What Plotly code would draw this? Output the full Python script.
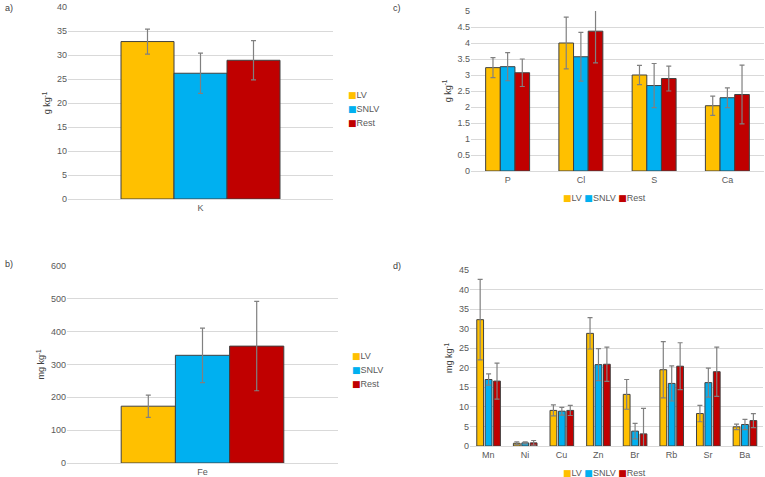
import plotly.graph_objects as go

# ---------------- data ----------------
series = ["LV", "SNLV", "Rest"]
colors = {"LV": "#FFC000", "SNLV": "#00B0F0", "Rest": "#C00000"}

cat_a = ["K"]
a_mean = {"LV": [32.8], "SNLV": [26.2], "Rest": [28.9]}
a_err = {"LV": [2.6], "SNLV": [4.2], "Rest": [4.1]}

cat_b = ["Fe"]
b_mean = {"LV": [173], "SNLV": [328], "Rest": [356]}
b_err = {"LV": [34], "SNLV": [83], "Rest": [136]}

cat_c = ["P", "Cl", "S", "Ca"]
c_mean = {"LV": [3.23, 4.00, 3.00, 2.04],
          "SNLV": [3.26, 3.57, 2.67, 2.29],
          "Rest": [3.07, 4.37, 2.89, 2.39]}
c_err = {"LV": [0.31, 0.81, 0.30, 0.30],
         "SNLV": [0.44, 0.76, 0.69, 0.31],
         "Rest": [0.43, 0.99, 0.39, 0.92]}

cat_d = ["Mn", "Ni", "Cu", "Zn", "Br", "Rb", "Sr", "Ba"]
d_mean = {"LV": [32.3, 0.7, 9.1, 28.8, 13.2, 19.5, 8.3, 4.9],
          "SNLV": [17.0, 0.8, 8.9, 20.8, 3.8, 16.0, 16.2, 5.5],
          "Rest": [16.6, 0.8, 9.1, 20.9, 3.1, 20.4, 19.0, 6.5]}
d_err = {"LV": [10.3, 0.35, 1.4, 4.0, 3.8, 7.2, 2.1, 0.7],
         "SNLV": [1.45, 0.25, 1.0, 4.1, 2.0, 4.5, 3.7, 1.3],
         "Rest": [4.6, 0.6, 1.3, 4.4, 6.5, 6.0, 6.3, 1.8]}

W, H = 765, 477
FONT = "Liberation Sans, Arial, sans-serif"
TXT = "#595959"
GRID = "#d9d9d9"
OUTLINE = "#404040"
ERRC = "#808080"


def px(x):
    return x / W


def py(y):
    return 1 - y / H


fig = go.Figure()

panels = [
    ("x", "y", cat_a, a_mean, a_err, None),
    ("x2", "y2", cat_b, b_mean, b_err, None),
    ("x3", "y3", cat_c, c_mean, c_err, None),
    ("x4", "y4", cat_d, d_mean, d_err, "gapped"),
]

for xa, ya, cats, means, errs, mode in panels:
    for i, s in enumerate(series):
        kw = {}
        if mode == "gapped":
            kw = dict(width=0.185, offset=-0.315 + i * 0.23)
        fig.add_trace(go.Bar(
            x=cats, y=means[s], name=s, xaxis=xa, yaxis=ya, showlegend=False,
            marker=dict(color=colors[s], line=dict(color=OUTLINE, width=1)),
            error_y=dict(type="data", array=errs[s], color=ERRC,
                         thickness=1.2, width=2.5),
            **kw))

axfont = dict(family=FONT, size=9, color=TXT)


def xax(domain):
    return dict(domain=domain, showgrid=False, showline=True, linecolor=GRID,
                linewidth=1, tickfont=axfont, ticks="", fixedrange=True)


def yax(domain, rng, dtick, title, anchor):
    return dict(domain=domain, range=rng, dtick=dtick, showgrid=True,
                gridcolor=GRID, gridwidth=1, zeroline=False, showline=False,
                tickfont=axfont, ticks="", anchor=anchor,
                title=dict(text=title, font=dict(family=FONT, size=9, color="#404040"),
                           standoff=4))


fig.update_layout(
    width=W, height=H, autosize=False,
    margin=dict(l=0, r=0, t=0, b=0, autoexpand=False),
    paper_bgcolor="white", plot_bgcolor="white",
    barmode="group", bargap=0.4, bargroupgap=0,
    font=dict(family=FONT, size=9, color=TXT),
    showlegend=False,
    xaxis=dict(**xax([px(68), px(333)]), anchor="y"),
    yaxis=yax([py(199), py(7)], [0, 40], 5, "g kg<sup>-1</sup>", "x"),
    xaxis2=dict(**xax([px(67), px(338)]), anchor="y2"),
    yaxis2=yax([py(463), py(266)], [0, 600], 100, "mg kg<sup>-1</sup>", "x2"),
    xaxis3=dict(**xax([px(471), px(764)]), anchor="y3"),
    yaxis3=yax([py(171), py(11)], [0, 5], 0.5, "g kg<sup>-1</sup>", "x3"),
    xaxis4=dict(**xax([px(470), px(763)]), anchor="y4"),
    yaxis4=yax([py(446), py(270)], [0, 45], 5, "mg kg<sup>-1</sup>", "x4"),
)


def ann(text, x, y, xanchor="left"):
    fig.add_annotation(text=text, x=px(x), y=py(y), xref="paper", yref="paper",
                       xanchor=xanchor, yanchor="middle", showarrow=False,
                       font=dict(family=FONT, size=9, color=TXT))


def swatch(s):
    return ('<span style="color:%s;font-family:DejaVu Sans">\u25A0</span>' % colors[s])


# vertical legends (panels a and b)
for lx, ly0 in [(346, 95), (350, 356)]:
    for i, s in enumerate(series):
        ann(swatch(s) + s, lx, ly0 + 14 * i)

# horizontal legends (panels c and d)
hl = "".join(swatch(s) + s + " " for s in series).strip()
ann(hl, 604, 198, "center")
ann(hl, 604, 473, "center")

labels = [("a)", 3, 8), ("b)", 3, 264), ("c)", 391, 8), ("d)", 391, 266)]
for t, x, y in labels:
    fig.add_annotation(text=t, x=px(x), y=py(y), xref="paper", yref="paper",
                       xanchor="left", yanchor="middle", showarrow=False,
                       font=dict(family=FONT, size=9, color="#404040"))

fig.write_html("out.html",
               config={"displayModeBar": False, "staticPlot": True},
               post_script="document.body.style.margin='0px';"
                           "document.body.style.overflow='hidden';")
